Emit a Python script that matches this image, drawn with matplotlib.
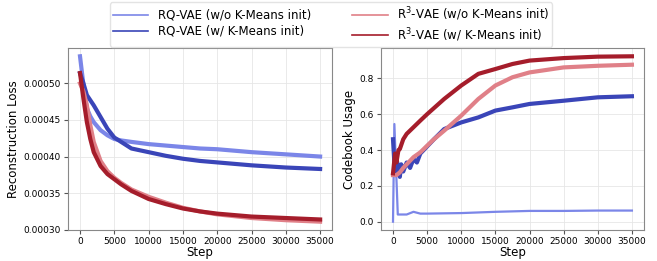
import matplotlib.pyplot as plt

# Step (x) values
steps = [0, 500, 1000, 1500, 2000, 3000, 4000, 5000, 6000, 7500, 10000,
         12500, 15000, 17500, 20000, 25000, 30000, 35000]

# Reconstruction loss
loss_rq_wo = [0.000537, 0.000498, 0.000466, 0.000455, 0.000447, 0.000436, 0.000429,
              0.000424, 0.000422, 0.000420, 0.000417, 0.000415, 0.000413, 0.000411,
              0.000410, 0.000406, 0.000403, 0.000400]
loss_rq_w = [0.000514, 0.000500, 0.000484, 0.000477, 0.000470, 0.000454, 0.000438,
             0.000426, 0.000420, 0.000411, 0.000406, 0.000401, 0.000397, 0.000394,
             0.000392, 0.000388, 0.000385, 0.000383]
loss_r3_wo = [0.000500, 0.000489, 0.000470, 0.000443, 0.000420, 0.000394, 0.000380,
              0.000371, 0.000364, 0.000355, 0.000345, 0.000337, 0.000330, 0.000325,
              0.000321, 0.000316, 0.000313, 0.000311]
loss_r3_w = [0.000514, 0.000479, 0.000447, 0.000424, 0.000406, 0.000387, 0.000376,
             0.000369, 0.000362, 0.000353, 0.000342, 0.000335, 0.000329, 0.000325,
             0.000322, 0.000318, 0.000316, 0.000314]

# Codebook usage
usage_steps_rq_wo = [0, 200, 700, 1000, 2000, 3000, 4000, 5000, 10000, 15000, 20000,
                     25000, 30000, 35000]
usage_rq_wo = [0.0, 0.545, 0.04, 0.04, 0.04, 0.055, 0.045, 0.045, 0.048, 0.055, 0.06,
               0.06, 0.062, 0.062]
usage_steps_rq_w = [0, 300, 500, 800, 1000, 1200, 1500, 2000, 2500, 3000, 3500, 4000,
                    5000, 6000, 7500, 10000, 12500, 15000, 17500, 20000, 25000, 30000,
                    35000]
usage_rq_w = [0.46, 0.26, 0.35, 0.30, 0.25, 0.32, 0.28, 0.33, 0.30, 0.35, 0.33, 0.38,
              0.42, 0.46, 0.517, 0.554, 0.582, 0.62, 0.638, 0.657, 0.675, 0.694, 0.70]
usage_r3_wo = [0.26, 0.26, 0.275, 0.30, 0.32, 0.36, 0.387, 0.424, 0.46, 0.508, 0.592,
               0.685, 0.76, 0.806, 0.833, 0.861, 0.87, 0.876]
usage_steps_r3_w = [0, 300, 500, 800, 1000, 1500, 2000, 3000, 4000, 5000, 7500, 10000,
                    12500, 15000, 17500, 20000, 25000, 30000, 35000]
usage_r3_w = [0.27, 0.38, 0.33, 0.40, 0.405, 0.46, 0.49, 0.527, 0.564, 0.60, 0.685,
              0.76, 0.825, 0.852, 0.88, 0.899, 0.913, 0.921, 0.923]

labels = ['RQ-VAE (w/o K-Means init)', 'RQ-VAE (w/ K-Means init)',
          r'R$^3$-VAE (w/o K-Means init)', r'R$^3$-VAE (w/ K-Means init)']
colors = ['#7b86e8', '#3a45b8', '#e08088', '#a51d2b']

fig = plt.figure(figsize=(6.57, 2.61), dpi=100)
ax1 = fig.add_axes([0.1035, 0.119, 0.402, 0.697])
ax2 = fig.add_axes([0.580, 0.119, 0.400, 0.697])

lw = 3.0
ax1.plot(steps, loss_rq_wo, color=colors[0], lw=lw)
ax1.plot(steps, loss_rq_w, color=colors[1], lw=lw)
ax1.plot(steps, loss_r3_wo, color=colors[2], lw=lw)
ax1.plot(steps, loss_r3_w, color=colors[3], lw=lw)

ax2.plot(usage_steps_rq_wo, usage_rq_wo, color=colors[0], lw=1.6)
ax2.plot(usage_steps_rq_w, usage_rq_w, color=colors[1], lw=lw)
ax2.plot(steps, usage_r3_wo, color=colors[2], lw=lw)
ax2.plot(usage_steps_r3_w, usage_r3_w, color=colors[3], lw=lw)

ax1.set_ylabel('Reconstruction Loss', fontsize=8.5, labelpad=3)
ax2.set_ylabel('Codebook Usage', fontsize=8.5, labelpad=3)
ax1.set_yticks([0.0003, 0.00035, 0.0004, 0.00045, 0.0005])
ax1.set_yticklabels(['0.00030', '0.00035', '0.00040', '0.00045', '0.00050'])
ax2.set_yticks([0.0, 0.2, 0.4, 0.6, 0.8])

for ax in (ax1, ax2):
    ax.set_xlabel('Step', fontsize=8.5, labelpad=0)
    ax.set_xticks([0, 5000, 10000, 15000, 20000, 25000, 30000, 35000])
    ax.tick_params(labelsize=6.5, length=3, color='#555555', pad=2)
    ax.grid(True, color='#e6e6e6', lw=0.6)
    ax.set_axisbelow(True)
    for s in ax.spines.values():
        s.set_color('#888888')

handles = [plt.Line2D([], [], color=c, lw=1.2) for c in colors]
fig.legend(handles, labels,
           loc='upper center', bbox_to_anchor=(0.504, 0.995), ncol=2,
           fontsize=8.5, frameon=True, edgecolor='#dddddd', columnspacing=3.5,
           handlelength=3, labelspacing=0.25, borderpad=0.25, borderaxespad=0.1)

fig.savefig('out.png', dpi=100)
